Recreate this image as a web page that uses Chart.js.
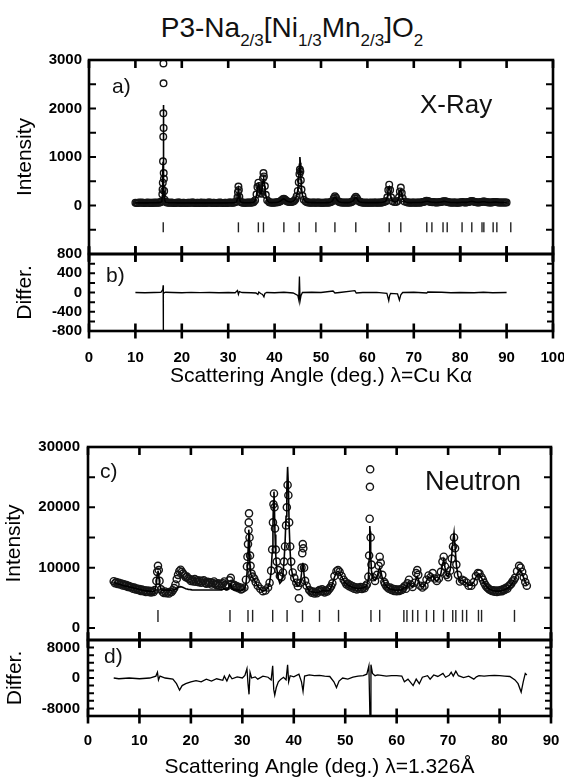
<!DOCTYPE html>
<html>
<head>
<meta charset="utf-8">
<title>P3-Na2/3[Ni1/3Mn2/3]O2 Rietveld refinement</title>
<script src="https://cdn.jsdelivr.net/npm/chart.js@4.4.1/dist/chart.umd.min.js"></script>
<style>
  html, body { margin: 0; padding: 0; background: #fff; }
  #page { position: relative; width: 564px; height: 778px; overflow: hidden;
          font-family: "Liberation Sans", Arial, Helvetica, sans-serif; }
  #title { position: absolute; left: 0; top: 14px; width: 584px; text-align: center;
           font-size: 28px; line-height: 28px; color: #111; white-space: nowrap; }
  #title .s { font-size: 17px; vertical-align: -9px; }
  canvas { position: absolute; left: 0; }
</style>
</head>
<body>
<div id="page">
  <div id="title">P3-Na<span class="s">2/3</span>[Ni<span class="s">1/3</span>Mn<span class="s">2/3</span>]O<span class="s">2</span></div>
  <canvas id="xrayFit" width="564" height="230" style="top:40px"></canvas>
  <canvas id="xrayDiff" width="564" height="160" style="top:240px"></canvas>
  <canvas id="neutronFit" width="564" height="230" style="top:425px"></canvas>
  <canvas id="neutronDiff" width="564" height="155" style="top:626px"></canvas>
</div>
<script>
// ---------------- X-ray pattern (Cu K-alpha) ----------------
const xrayAngle = [
  10,10.25,10.5,10.75,11,11.25,11.5,11.75,12,12.25,12.5,12.75,13,13.25,13.5,13.75,14,14.25,14.5,14.75,15,15.25,15.5,
  15.7,15.8,15.85,15.9,15.95,16.0,16.02,16.04,16.06,16.08,16.1,16.15,16.2,16.3,16.5,16.75,
  17,17.25,17.5,17.75,18,18.25,18.5,18.75,19,19.25,19.5,19.75,20,20.25,20.5,20.75,21,21.25,21.5,21.75,
  22,22.25,22.5,22.75,23,23.25,23.5,23.75,24,24.25,24.5,24.75,25,25.25,25.5,25.75,26,26.25,26.5,26.75,
  27,27.25,27.5,27.75,28,28.25,28.5,28.75,29,29.25,29.5,29.75,30,30.25,30.5,30.75,31,31.25,31.5,
  31.8,32.0,32.1,32.2,32.3,32.4,32.6,32.8,
  33,33.25,33.5,33.75,34,34.25,34.5,34.75,35,35.25,35.5,
  35.8,36.1,36.3,36.5,36.7,36.9,37.1,37.3,37.5,37.6,37.7,37.9,38.1,38.4,38.8,
  39,39.25,39.5,39.75,40,40.25,40.5,40.75,41,41.25,
  41.5,41.75,42,42.25,42.5,42.75,43,43.25,43.5,43.75,44,44.25,44.5,44.75,
  45.0,45.2,45.35,45.45,45.55,45.65,45.8,46.0,46.3,46.7,
  47,47.25,47.5,47.75,48,48.25,48.5,48.75,49,49.25,49.5,49.75,50,50.25,50.5,50.75,51,51.25,51.5,51.75,52,52.25,52.5,
  52.75,53,53.25,53.5,53.75,54,54.25,54.5,54.75,55,55.25,55.5,55.75,56,56.25,56.5,56.75,57,57.25,57.5,57.75,58,58.25,58.5,58.75,59,
  59.25,59.5,59.75,60,60.25,60.5,60.75,61,61.25,61.5,61.75,62,62.25,62.5,62.75,63,63.25,63.5,63.75,64,
  64.3,64.5,64.7,64.9,65.1,65.4,65.8,66.2,66.5,66.8,67.0,67.2,67.4,67.6,68.0,68.5,
  68.75,69,69.25,69.5,69.75,70,70.25,70.5,70.75,71,71.25,71.5,71.75,72,72.25,72.5,72.75,73,73.25,73.5,
  73.75,74,74.25,74.5,74.75,75,75.25,75.5,75.75,76,76.25,76.5,76.75,77,77.25,77.5,77.75,78,78.25,78.5,
  78.75,79,79.25,79.5,79.75,80,80.25,80.5,80.75,81,81.25,81.5,81.75,82,82.25,82.5,82.75,83,83.25,83.5,
  83.75,84,84.25,84.5,84.75,85,85.25,85.5,85.75,86,86.25,86.5,86.75,87,87.25,87.5,87.75,88,88.25,88.5,
  88.75,89,89.25,89.5,89.75,90
];
const xrayObserved = [
  58,54,52,60,57,55,62,53,50,58,56,61,54,59,57,52,60,55,58,63,59,64,72,
  90,230,330,470,910,1420,1900,2930,2520,1600,670,550,300,120,75,62,
  62,57,55,60,58,53,52,59,56,61,60,54,54,58,57,51,52,59,58,55,
  55,61,60,54,53,58,57,52,55,60,52,56,58,53,55,61,60,55,54,58,
  57,51,52,58,56,61,59,54,54,59,57,53,55,61,60,56,58,62,66,
  80,170,280,390,320,180,85,68,
  60,57,55,59,58,62,60,56,60,64,70,
  110,230,380,470,400,260,240,350,560,670,600,400,220,110,70,
  60,63,58,56,62,60,65,68,75,88,
  105,128,140,125,100,85,75,72,70,76,85,100,130,190,
  300,480,650,740,700,520,330,200,120,80,
  65,62,60,57,58,62,62,58,57,60,60,56,55,59,58,55,60,61,57,60,65,78,95,
  150,190,160,105,82,70,64,60,62,58,60,62,57,60,64,68,80,100,150,180,150,105,80,70,62,60,
  58,58,62,56,55,59,60,56,58,61,62,57,57,60,60,58,66,72,80,90,
  170,320,430,320,170,90,70,70,95,170,290,370,260,150,80,65,
  62,60,58,57,61,62,56,58,63,60,58,63,66,70,78,88,96,95,84,75,
  72,68,70,65,60,62,66,66,70,75,82,88,86,80,72,66,64,62,58,60,
  64,62,57,58,62,64,68,70,65,62,64,66,72,78,86,92,86,78,70,65,
  62,64,68,72,78,82,80,74,68,66,62,62,64,66,70,72,70,68,64,62,
  60,60,62,63,60,60
];
const xrayCalculated = [
  55,55,55,55,55,55,55,55,55,55,55,55,56,56,56,56,57,57,58,59,60,63,68,
  85,200,320,520,900,1500,1900,2070,1800,1300,900,450,230,110,70,60,
  58,58,57,57,56,56,56,56,55,55,55,55,55,55,55,55,55,55,55,55,
  55,55,55,55,55,55,55,55,55,55,55,55,55,55,55,55,55,55,55,55,
  55,55,55,55,55,55,55,55,55,55,55,55,56,56,56,57,58,60,64,
  75,150,260,330,270,150,80,65,
  62,60,58,57,57,58,58,59,60,63,68,
  100,210,360,430,370,250,230,330,520,620,560,380,210,100,66,
  60,61,60,61,62,63,66,70,78,92,
  110,128,135,120,100,86,78,74,72,78,88,105,140,200,
  320,560,850,1000,880,600,360,210,120,78,
  68,65,62,61,60,60,60,59,58,58,58,57,57,57,57,58,58,59,60,62,68,80,100,
  150,180,150,110,85,70,65,62,61,60,60,60,60,62,65,70,82,105,145,170,140,100,80,70,64,62,
  61,60,60,60,60,60,60,60,60,60,60,60,60,61,62,63,68,74,82,95,
  180,340,380,300,170,95,72,72,100,180,300,320,240,140,80,66,
  61,60,60,60,61,61,61,61,62,62,62,63,65,69,76,84,88,88,82,75,
  71,68,67,65,63,63,65,67,70,74,80,84,83,78,72,67,64,62,61,61,
  62,61,60,60,61,63,66,68,66,64,64,66,71,77,84,88,84,77,70,66,
  64,65,68,72,76,78,77,72,68,65,63,63,64,66,69,70,69,67,64,62,
  61,61,61,61,60,60
];
// allowed reflection positions (2-theta) and the intensity row they sit on
const xrayBragg = [16.0,32.2,36.5,37.6,42.0,45.3,48.9,53.0,57.5,64.7,67.2,72.8,73.9,76.3,77.2,80.4,82.5,84.7,85.1,87.1,87.9,90.9];
const xrayBraggRow = -450;
// observed minus calculated
const xrayDiffAngle = [
  10,12,14,15.5,15.9,15.98,16.01,16.05,16.2,16.5,18,20,22,24,26,28,30,31.5,32.0,32.2,
  32.4,33,35,36,36.4,36.6,37.0,37.4,37.7,37.9,38.3,40,42,44,45.0,45.2,45.35,45.5,45.7,46,
  48,50,52.6,53,54,57.3,57.6,59,62,64.2,64.6,64.8,65,66.5,66.9,67.2,67.6,70,72.8,73,
  76,78,80,83,85,87,90
];
const xrayDiffValue = [
  0,-5,0,5,60,150,-1000,20,-10,5,0,-5,3,-3,0,-5,0,-5,40,-40,
  20,0,-5,-10,-40,10,-20,-40,-90,-20,0,-5,5,-10,-60,-150,330,-170,-60,0,
  5,0,30,-10,0,40,-10,0,3,-20,-170,-60,-20,-30,-160,-50,0,5,-10,10,
  5,-5,0,-5,5,-5,0
];
const xrayAngleTicks = [0,10,20,30,40,50,60,70,80,90,100];
const xrayIntensityTicks = [-500,0,500,1000,1500,2000,2500,3000];
const xrayIntensityLabels = [0,1000,2000,3000];
const xrayDiffTicks = [-800,-600,-400,-200,0,200,400,600,800];
const xrayDiffLabels = [-800,-400,0,400,800];

// ---------------- Neutron pattern (lambda = 1.326 A) ----------------
const neutronAngle = [
  5,5.25,5.5,5.75,6,6.25,6.5,6.75,7,7.25,7.5,7.75,8,8.25,8.5,8.75,9,9.25,9.5,9.75,10,10.25,10.5,10.75,11,11.25,11.5,11.75,12,12.25,12.5,12.75,13,
  13.3,13.45,13.6,13.75,13.9,14.2,
  14.5,14.75,15,15.25,15.5,15.75,16,16.25,16.5,16.75,17,
  17.25,17.5,17.75,18,18.25,18.5,18.75,19,19.25,19.5,19.75,20,
  20.25,20.5,20.75,21,21.25,21.5,21.75,22,22.25,22.5,22.75,23,23.25,23.5,23.75,24,24.25,24.5,24.75,25,
  25.25,25.5,25.75,26,26.25,26.5,26.75,27,27.25,27.5,27.75,28,28.25,28.5,28.75,29,29.25,29.5,29.75,30,
  30.4,30.7,30.9,31.0,31.1,31.2,31.25,31.3,31.4,31.5,31.6,31.8,32.0,32.3,32.6,33.0,
  33.5,34.0,34.5,35.0,35.3,35.6,35.8,35.95,36.05,36.15,36.25,36.35,36.5,36.7,37.0,37.3,37.6,37.9,
  38.1,38.3,38.5,38.65,38.8,38.95,39.1,39.3,39.5,39.8,40.1,40.5,40.8,41.0,
  41.3,41.5,41.65,41.75,41.85,42.0,42.2,42.5,43.0,
  43.25,43.5,43.75,44,44.25,44.5,44.75,45,45.25,45.5,45.75,46,46.25,46.5,46.75,47,47.25,47.5,
  47.9,48.3,48.6,48.9,49.3,49.7,
  50,50.25,50.5,50.75,51,51.25,51.5,51.75,52,52.25,52.5,52.75,53,53.25,53.5,53.75,54,
  54.2,54.5,54.65,54.75,54.8,54.85,54.95,55.1,55.4,55.8,56.2,56.5,56.7,56.9,57.2,57.6,
  57.75,58,58.25,58.5,58.75,59,59.25,59.5,59.75,60,60.25,60.5,60.75,61,61.25,
  61.5,61.8,62.1,62.4,62.7,63.1,63.5,63.8,64.0,64.2,64.6,
  65.0,65.4,65.8,66.2,66.6,67.0,67.4,67.8,68.2,68.6,68.9,69.15,69.4,69.7,70.0,70.4,70.7,70.95,
  71.15,71.35,71.6,71.9,72.3,72.7,73.1,73.6,74.0,74.5,75.0,75.4,75.8,76.1,76.5,
  76.75,77,77.25,77.5,77.75,78,78.25,78.5,78.75,79,79.25,79.5,79.75,80,80.25,80.5,80.75,81,81.25,81.5,81.75,82,82.25,82.5,82.75,
  83.0,83.4,83.8,84.1,84.4,84.7,85.0,85.3
];
const neutronObserved = [
  7750,7400,7600,7300,7500,7200,7350,7050,7250,6950,7100,6800,6950,6700,6800,6500,6700,6400,6550,6300,6450,6150,6350,6100,6250,5950,6200,5950,6150,5900,6100,5950,6300,
  7800,9300,10300,9600,7800,6400,
  6000,5800,6050,5750,5900,5700,6000,5950,6250,6600,7200,
  8100,8800,9400,9650,9300,9000,8700,8400,8500,8200,8100,7800,
  8000,7700,8100,7650,7900,7600,7850,7500,7750,7900,7500,7350,7650,7400,7550,7200,7450,7700,7300,7100,
  7400,7050,7300,6950,7400,7700,7100,6900,7200,7900,8300,7300,6950,7100,6750,6900,6600,6750,6400,6500,
  6700,8000,10200,11800,13900,16200,17500,19000,15000,12000,10300,9000,8500,8200,7600,7000,
  6500,6100,6200,6700,7500,9500,13000,17500,20500,22300,20000,16500,13000,11000,9600,8600,8400,9200,
  11000,13500,17000,20000,23700,22000,17500,13500,11000,9200,8300,7500,6900,4900,
  7500,10000,12400,13900,13200,10000,7800,7000,6300,
  6100,5850,6050,5700,5950,5750,6100,6300,6050,6400,6150,5900,6200,6050,6350,6600,6900,7400,
  8600,9400,9600,9300,8600,8000,
  7600,7200,7350,6900,7100,6700,6900,6500,6750,6400,6700,6500,6800,6450,6750,6600,7000,
  7200,8500,12000,18100,23400,26300,15000,10500,8400,7800,8800,10300,11800,10800,8800,7600,
  7300,6900,6700,6500,6700,6300,6500,6150,6400,6100,6350,6150,6400,6300,6600,
  6900,6500,7400,8000,7200,6800,7500,9100,9600,8800,7000,
  6700,7000,8000,8700,8400,9100,8200,7800,8200,9300,11000,11800,10200,8800,8400,9500,11500,13500,
  15000,13200,10500,8800,7700,8000,7800,7500,7000,7000,7600,8600,9100,9000,8400,
  8000,7500,7100,6800,6600,6400,6300,6150,6250,6000,6200,5950,6200,6050,6300,6100,6450,6300,6650,6500,6900,7100,7300,7700,7900,
  8300,9400,10300,10000,9300,8400,7600,7000
];
const neutronCalculated = [
  7550,7450,7400,7300,7250,7200,7150,7050,7000,6950,6900,6850,6800,6750,6700,6650,6600,6550,6500,6450,6400,6350,6300,6250,6200,6150,6150,6100,6100,6050,6050,6050,6200,
  7400,8800,9500,8800,7300,6300,
  6250,6250,6250,6250,6250,6250,6250,6250,6300,6350,6400,
  6550,6700,6800,6850,6800,6700,6600,6500,6450,6400,6380,6350,
  6300,6300,6300,6300,6300,6300,6300,6300,6300,6300,6300,6300,6300,6300,6300,6300,6300,6300,6300,6300,
  6300,6300,6300,6300,6450,6500,6350,6300,6500,7000,7200,6500,6350,6300,6300,6300,6300,6300,6300,6300,
  6500,7300,9000,10500,12500,14800,16300,15800,12500,10000,9000,8600,8300,8000,7500,6900,
  6400,6100,6200,6700,7500,9300,12500,17000,21000,22600,19500,15500,12000,9800,8200,7400,7700,9000,
  11000,14000,18500,23000,26700,23500,17000,12500,10000,8600,7800,7200,6900,7000,
  7600,9000,10300,10800,10200,8800,7500,6800,6200,
  6100,6000,5950,5900,5850,5850,5900,6000,6100,6150,6200,6150,6100,6150,6200,6350,6700,7300,
  8400,9200,9400,9100,8500,7900,
  7500,7300,7150,7000,6900,6800,6700,6650,6600,6550,6550,6550,6600,6600,6650,6750,6900,
  7100,8200,11500,15500,16900,16000,12000,9500,8200,7900,8500,9500,10000,9500,8300,7400,
  7200,6900,6700,6550,6450,6400,6350,6300,6250,6250,6250,6300,6300,6350,6500,
  6700,6600,7100,7500,7000,6800,7300,8200,8500,8100,7000,
  6800,7000,7800,8400,8300,8700,8000,7800,8100,9000,10500,11300,10000,8700,8500,9600,12000,14500,
  15800,13500,10500,8700,7800,7900,7700,7400,7100,7100,7600,8400,8900,8900,8300,
  7900,7450,7100,6850,6650,6450,6350,6250,6200,6150,6100,6100,6100,6100,6150,6200,6250,6350,6450,6550,6700,6900,7100,7400,7800,
  8200,9000,9600,9500,9000,8300,7600,7100
];
const neutronBragg = [13.6,27.6,31.1,32.0,35.9,38.7,41.7,45.0,48.7,55.0,56.7,61.4,62.0,63.1,64.1,65.8,67.2,69.1,70.9,71.5,72.8,73.6,75.9,76.5,82.9];
const neutronBraggRow = 2000;
const neutronDiffAngle = [
  5,6,8,10,12,13.2,13.5,13.7,14,15,16.5,17.2,17.8,18.3,19,20,21,22,23,24,
  25,26.2,26.5,27,27.5,28,29,30,30.5,30.9,31.1,31.3,31.5,31.8,32.5,33,34,35,35.6,35.9,
  36.1,36.3,36.6,37,37.5,38,38.5,38.8,39.0,39.3,40,41,41.5,41.8,42.1,43,44,45,46,47,
  47.8,48.3,48.8,49.5,50.5,51.5,52.5,53.5,54.2,54.6,54.8,54.9,55.0,55.3,55.8,56.3,57,58,59,60,
  61,61.5,62.2,63.2,63.8,64.4,65,66,66.5,67.2,68,69,69.5,70.2,70.6,71.0,71.5,72,73,74,
  75,75.5,76,77,78,79,80,81,82,83,83.6,84.2,84.6,85.0,85.3
];
const neutronDiffValue = [
  0,-200,0,-200,0,500,1500,-500,500,0,-300,-1500,-3200,-2000,-1500,-1000,-700,-1000,-300,-800,
  -200,-600,500,-800,800,-200,300,0,700,2500,-1500,-4300,1500,0,300,-300,500,200,-500,3200,
  -3000,-4500,-2500,-1000,-300,200,-500,3500,-1000,600,300,1000,-1000,-3500,500,800,600,700,500,400,
  -1000,-2500,-800,0,-300,200,500,600,1000,3200,-10000,-10000,3500,1200,600,800,700,500,600,600,
  500,-1000,-300,-2000,-300,-1500,200,600,-300,800,400,1200,200,700,1500,500,1800,600,100,500,
  -300,300,600,500,600,700,600,500,400,-500,-1500,-3700,-1000,1200,800
];
const neutronAngleTicks = [0,10,20,30,40,50,60,70,80,90];
const neutronIntensityTicks = [0,5000,10000,15000,20000,25000,30000];
const neutronIntensityLabels = [0,10000,20000,30000];
const neutronDiffTicks = [-8000,-6000,-4000,-2000,0,2000,4000,6000,8000];
const neutronDiffLabels = [-8000,0,8000];

// ---------------- drawing ----------------
Chart.defaults.font.family = '"Liberation Sans", Arial, Helvetica, sans-serif';
Chart.defaults.color = '#000';

function pairs(xs, ys) {
  if (xs.length !== ys.length) throw new Error('length mismatch: ' + xs.length + ' vs ' + ys.length);
  return xs.map((x, i) => ({ x, y: ys[i] }));
}
const row = (xs, level) => xs.map(x => ({ x, y: level }));

// Closed frame, inward / crossing tick marks and the panel captions.
function frameAndTicks(spec) {
  return {
    id: 'frameAndTicks',
    afterDatasetsDraw(chart) {
      const { ctx, chartArea: a } = chart;
      const xs = chart.scales.x, ys = chart.scales.y;
      ctx.save();
      ctx.strokeStyle = '#000';
      ctx.lineCap = 'butt';
      ctx.lineWidth = 2.6;
      ctx.strokeRect(a.left, a.top, a.right - a.left, a.bottom - a.top);

      ctx.lineWidth = 2.6;
      ctx.beginPath();
      const L = spec.xLen;
      for (const v of spec.xTicks) {
        const px = xs.getPixelForValue(v);
        if (spec.top === 'in') { ctx.moveTo(px, a.top); ctx.lineTo(px, a.top + L); }
        if (spec.top === 'cross') { ctx.moveTo(px, a.top - L); ctx.lineTo(px, a.top + L); }
        if (spec.bottom === 'cross') { ctx.moveTo(px, a.bottom - L); ctx.lineTo(px, a.bottom + L); }
      }
      ctx.stroke();

      ctx.lineWidth = 2;
      ctx.beginPath();
      for (const t of ys.ticks) {
        const py = ys.getPixelForValue(t.value);
        ctx.moveTo(a.left, py); ctx.lineTo(a.left + spec.yLen, py);
        ctx.moveTo(a.right, py); ctx.lineTo(a.right - spec.yLen, py);
      }
      ctx.stroke();

      ctx.fillStyle = '#111';
      ctx.textBaseline = 'alphabetic';
      ctx.textAlign = 'left';
      for (const n of spec.notes) {
        ctx.font = n.size + 'px "Liberation Sans", Arial, sans-serif';
        ctx.fillText(n.text, a.left + n.dx, a.top + n.dy);
      }
      ctx.restore();
    }
  };
}

function yAxis(o) {
  return {
    type: 'linear', position: 'left', min: o.min, max: o.max,
    afterBuildTicks: s => { s.ticks = o.ticks.map(v => ({ value: v })); },
    afterFit: s => { s.width = o.width; s.paddingTop = 0; s.paddingBottom = 0; },
    grid: { display: false, drawTicks: false },
    border: { display: false },
    ticks: {
      autoSkip: false, padding: o.pad, color: '#000',
      font: { size: 15, weight: 'bold' },
      callback: v => (o.labels.includes(v) ? String(v) : '')
    },
    title: { display: true, text: o.title, color: '#000', font: { size: 21 },
             padding: { top: o.titlePad, bottom: 0 } }
  };
}

function xAxis(o) {
  if (!o.show) return { type: 'linear', min: o.min, max: o.max, display: false };
  return {
    type: 'linear', position: 'bottom', min: o.min, max: o.max,
    afterBuildTicks: s => { s.ticks = o.ticks.map(v => ({ value: v })); },
    afterFit: s => { s.height = o.height; s.paddingLeft = 0; s.paddingRight = 0; },
    grid: { display: false, drawTicks: false },
    border: { display: false },
    ticks: { autoSkip: false, maxRotation: 0, padding: o.pad, color: '#000',
             font: { size: 15, weight: 'bold' }, callback: v => String(v) },
    title: { display: true, text: o.title, color: '#000', font: { size: 21 },
             padding: { top: 0, bottom: o.titlePad } }
  };
}

function fitDatasets(angle, obs, calc, bragg, braggRow, braggHalf, ring) {
  return [
    { label: 'calculated', data: pairs(angle, calc), showLine: true, tension: 0,
      borderColor: '#000', borderWidth: 1.6, pointRadius: 0 },
    { label: 'observed', data: pairs(angle, obs), showLine: false,
      pointStyle: 'circle', pointRadius: ring, pointBorderWidth: 1.4,
      pointBorderColor: '#151515', pointBackgroundColor: 'rgba(0,0,0,0)' },
    { label: 'reflections', data: row(bragg, braggRow), showLine: false,
      pointStyle: 'line', pointRotation: 90, pointRadius: braggHalf,
      pointBorderWidth: 1.4, pointBorderColor: '#222' }
  ];
}

function diffDataset(angle, diff) {
  return [{ label: 'difference', data: pairs(angle, diff), showLine: true, tension: 0,
            borderColor: '#000', borderWidth: 1.3, pointRadius: 0, clip: 0 }];
}

function panel(id, datasets, padding, scales, spec) {
  return new Chart(document.getElementById(id), {
    type: 'scatter',
    data: { datasets },
    options: {
      responsive: false, animation: false, events: [], devicePixelRatio: 1,
      layout: { padding },
      plugins: { legend: { display: false }, tooltip: { enabled: false } },
      scales
    },
    plugins: [frameAndTicks(spec)]
  });
}

// a) X-ray fit
panel('xrayFit',
  fitDatasets(xrayAngle, xrayObserved, xrayCalculated, xrayBragg, xrayBraggRow, 5, 3.3),
  { top: 20, right: 11, bottom: 16, left: 0 },
  {
    x: xAxis({ show: false, min: 0, max: 100 }),
    y: yAxis({ min: -1000, max: 3000, ticks: xrayIntensityTicks, labels: xrayIntensityLabels,
               width: 89, pad: 7, title: 'Intensity', titlePad: 12.4 })
  },
  { top: 'in', bottom: 'cross', xTicks: xrayAngleTicks, xLen: 8, yLen: 7,
    notes: [{ text: 'a)', dx: 23, dy: 33, size: 21 }, { text: 'X-Ray', dx: 331, dy: 52.7, size: 26 }] }
);

// b) X-ray difference
panel('xrayDiff',
  diffDataset(xrayDiffAngle, xrayDiffValue),
  { top: 14, right: 11, bottom: 0, left: 0 },
  {
    x: xAxis({ show: true, min: 0, max: 100, ticks: xrayAngleTicks, height: 69, pad: 17.6,
               title: 'Scattering Angle (deg.) \u03bb=Cu K\u03b1', titlePad: 10.7 }),
    y: yAxis({ min: -800, max: 800, ticks: xrayDiffTicks, labels: xrayDiffLabels,
               width: 89, pad: 7, title: 'Differ.', titlePad: 13 })
  },
  { top: 'cross', bottom: 'cross', xTicks: xrayAngleTicks, xLen: 7.5, yLen: 6,
    notes: [{ text: 'b)', dx: 17, dy: 27.7, size: 21 }] }
);

// c) Neutron fit
panel('neutronFit',
  fitDatasets(neutronAngle, neutronObserved, neutronCalculated, neutronBragg, neutronBraggRow, 6, 3.6),
  { top: 22, right: 13, bottom: 15, left: 0 },
  {
    x: xAxis({ show: false, min: 0, max: 90 }),
    y: yAxis({ min: -2000, max: 30000, ticks: neutronIntensityTicks, labels: neutronIntensityLabels,
               width: 88, pad: 8, title: 'Intensity', titlePad: 1.8 })
  },
  { top: 'in', bottom: 'cross', xTicks: neutronAngleTicks, xLen: 8, yLen: 7,
    notes: [{ text: 'c)', dx: 12, dy: 31, size: 21 }, { text: 'Neutron', dx: 337, dy: 43, size: 27 }] }
);

// d) Neutron difference
panel('neutronDiff',
  diffDataset(neutronDiffAngle, neutronDiffValue),
  { top: 14, right: 13, bottom: 0, left: 0 },
  {
    x: xAxis({ show: true, min: 0, max: 90, ticks: neutronAngleTicks, height: 65, pad: 16.1,
               title: 'Scattering Angle (deg.) \u03bb=1.326\u00c5', titlePad: 1.4 }),
    y: yAxis({ min: -10000, max: 10000, ticks: neutronDiffTicks, labels: neutronDiffLabels,
               width: 88, pad: 8, title: 'Differ.', titlePad: 2.8 })
  },
  { top: 'cross', bottom: 'cross', xTicks: neutronAngleTicks, xLen: 7.5, yLen: 6,
    notes: [{ text: 'd)', dx: 16, dy: 22.7, size: 21 }] }
);
</script>
</body>
</html>
